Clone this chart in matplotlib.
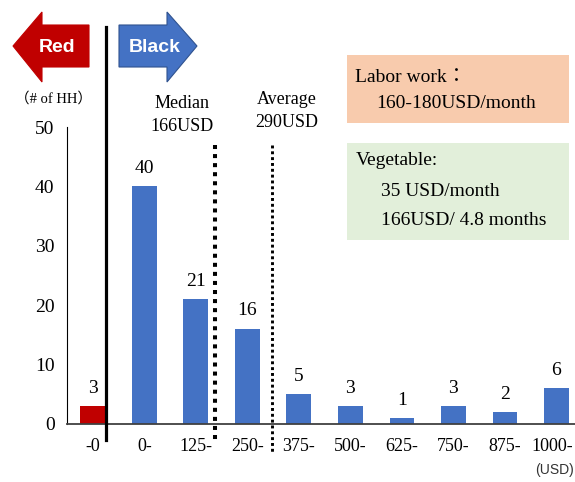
import matplotlib.pyplot as plt
import matplotlib.transforms as mtransforms
from matplotlib.patches import Polygon, Rectangle

# data
categories = ['-0', '0-', '125-', '250-', '375-', '500-', '625-', '750-', '875-', '1000-']
households = [3, 40, 21, 16, 5, 3, 1, 3, 2, 6]
bar_colors = ['#C00000'] + ['#4472C4'] * 9
median_pos = 2.37   # 166 USD, inside the 125- bin
average_pos = 3.48  # 290 USD, inside the 250- bin
split_pos = 0.25    # red / black border

W, H = 575, 482
serif = ['Liberation Serif', 'Noto Sans CJK JP']
sans = ['Liberation Sans', 'DejaVu Sans']

fig = plt.figure(figsize=(W / 100, H / 100), dpi=100)
ax = fig.add_axes([67 / W, 1 - 424 / H, 1 - 67 / W, (424 - 127) / H])

x = list(range(len(categories)))
ax.bar(x, households, width=0.48, color=bar_colors, zorder=2)
for xi, v in zip(x, households):
    ax.text(xi, v + 1.6, str(v), ha='center', va='bottom', fontsize=14, family=serif)

ax.set_xlim(-0.5, 9.36)
ax.set_ylim(0, 50)
ax.set_yticks([0, 10, 20, 30, 40, 50])
ax.set_xticks(x)
ax.set_xticklabels(categories)
ax.tick_params(length=0, labelsize=14, pad=9)
ax.tick_params(axis='x', labelsize=13, pad=10)
for lab in ax.get_xticklabels() + ax.get_yticklabels():
    lab.set_family(serif)
# keep the last label inside the picture
last = ax.get_xticklabels()[-1]
last.set_transform(last.get_transform() +
                   mtransforms.ScaledTranslation(-4 / 100, 0, fig.dpi_scale_trans))
ax.spines['top'].set_visible(False)
ax.spines['right'].set_visible(False)
ax.spines['left'].set_linewidth(0.8)
ax.spines['bottom'].set_linewidth(1.3)
ax.spines['bottom'].set_color('#404040')

# split line and median / average markers
ax.plot([split_pos, split_pos], [-2.7, 66.8], color='black', lw=2.3, clip_on=False, zorder=3)
ax.plot([median_pos, median_pos], [47.0, -2.7], color='black', lw=2.9,
        linestyle=(0, (1.0, 1.25)), solid_capstyle='butt', clip_on=False)
ax.plot([average_pos, average_pos], [47.0, -4.7], color='black', lw=2.1,
        linestyle=(0, (1.0, 1.0)), solid_capstyle='butt', clip_on=False)


def fx(px):
    return px / W


def fy(py):
    return 1 - py / H


def arrow(pts, color, edge):
    fig.patches.append(Polygon([(fx(a), fy(b)) for a, b in pts], closed=True,
                               transform=fig.transFigure, facecolor=color,
                               edgecolor=edge, lw=0.8))


# red arrow pointing left
arrow([(13, 46), (42, 12), (42, 25), (89, 25), (89, 67), (42, 67), (42, 82)], '#C00000', '#C00000')
fig.text(fx(57), fy(48), 'Red', color='white', fontsize=14, fontweight='bold',
         family=sans, ha='center', va='center')
# blue arrow pointing right
arrow([(119, 25), (167, 25), (167, 12), (197, 46), (167, 82), (167, 67), (119, 67)], '#4472C4', '#2F528F')
fig.text(fx(155), fy(48), 'Black', color='white', fontsize=14, fontweight='bold',
         family=sans, ha='center', va='center')

fig.text(fx(54), fy(99), '（# of HH）', fontsize=10.5, family=serif, ha='center', va='center')
fig.text(fx(182), fy(115), 'Median\n166USD', fontsize=13, family=serif,
         ha='center', va='center', linespacing=1.45)
fig.text(fx(287), fy(111), 'Average\n290USD', fontsize=13, family=serif,
         ha='center', va='center', linespacing=1.45)
fig.text(fx(555), fy(470), '(USD)', fontsize=10, family=sans, color='#333333',
         ha='center', va='center')

# info boxes
fig.patches.append(Rectangle((fx(347), fy(123)), fx(569) - fx(347), fy(55) - fy(123),
                             transform=fig.transFigure, facecolor='#F8CBAD', edgecolor='none'))
fig.patches.append(Rectangle((fx(347), fy(240)), fx(569) - fx(347), fy(143) - fy(240),
                             transform=fig.transFigure, facecolor='#E2EFDA', edgecolor='none'))
fig.text(fx(355), fy(77), 'Labor work：', fontsize=14, family=serif, va='center')
fig.text(fx(376), fy(104), '160-180USD/month', fontsize=14, family=serif, va='center')
fig.text(fx(356), fy(161), 'Vegetable:', fontsize=14, family=serif, va='center')
fig.text(fx(381), fy(192), '35 USD/month', fontsize=14, family=serif, va='center')
fig.text(fx(381), fy(221), '166USD/ 4.8 months', fontsize=14, family=serif, va='center')

fig.savefig('out.png', dpi=100)
